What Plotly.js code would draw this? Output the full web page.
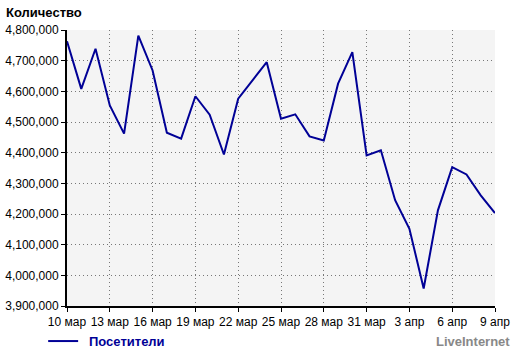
<!DOCTYPE html>
<html>
<head>
<meta charset="utf-8">
<script src="https://cdn.plot.ly/plotly-3.0.1.min.js"></script>
<style>html,body{margin:0;padding:0;background:#fff;}#chart{width:520px;height:353px;}</style>
</head>
<body>
<div id="chart"></div>
<script>
const days = ['10 мар','11 мар','12 мар','13 мар','14 мар','15 мар','16 мар','17 мар','18 мар','19 мар',
  '20 мар','21 мар','22 мар','23 мар','24 мар','25 мар','26 мар','27 мар','28 мар','29 мар',
  '30 мар','31 мар','1 апр','2 апр','3 апр','4 апр','5 апр','6 апр','7 апр','8 апр','9 апр'];
const visitors = [4763000,4608000,4739000,4554000,4462000,4782000,4668000,4465000,4446000,4584000,
  4524000,4394000,4576000,4635000,4695000,4511000,4525000,4453000,4440000,4625000,
  4728000,4391000,4408000,4245000,4152000,3957000,4212000,4353000,4329000,4261000,4203000];
const tickLabels = ['10 мар','13 мар','16 мар','19 мар','22 мар','25 мар','28 мар','31 мар','3 апр','6 апр','9 апр'];
const seriesName = 'Посетители';
const yTitle = 'Количество';
const brand = 'LiveInternet';

const font = 'Arial, "Liberation Sans", sans-serif';
const lineColor = '#000096';
Plotly.newPlot('chart', [{
  x: days, y: visitors, type: 'scatter', mode: 'lines', name: seriesName,
  line: {color: lineColor, width: 2}
}], {
  width: 520, height: 353,
  margin: {l: 67, r: 25, t: 30, b: 47},
  paper_bgcolor: '#ffffff', plot_bgcolor: '#f4f4f4',
  font: {family: font, size: 12, color: '#000'},
  showlegend: false,
  xaxis: {type: 'category', range: [0, 30], tickmode: 'array', tickvals: tickLabels, ticktext: tickLabels,
    showgrid: true, gridcolor: '#777', griddash: '1px,3px', gridwidth: 1,
    showline: true, linecolor: '#000', linewidth: 2, ticks: 'outside', ticklen: 4, tickcolor: '#000',
    tickfont: {family: font, size: 12, color: '#000'}, zeroline: false, fixedrange: true, automargin: false},
  yaxis: {range: [3900000, 4800000], dtick: 100000, tickformat: ',d',
    showgrid: true, gridcolor: '#777', griddash: '1px,3px', gridwidth: 1,
    showline: true, linecolor: '#000', linewidth: 2, ticks: 'outside', ticklen: 4, tickcolor: '#000',
    tickfont: {family: font, size: 12, color: '#000'}, zeroline: false, fixedrange: true, automargin: false},
  shapes: [
    {type: 'line', xref: 'paper', yref: 'paper', x0: -0.044, x1: 0.026, y0: -0.127, y1: -0.127,
     line: {color: lineColor, width: 2}}
  ],
  annotations: [
    {text: yTitle, xref: 'paper', yref: 'paper', x: -0.147, y: 1.065, xanchor: 'left', yanchor: 'middle',
     showarrow: false, font: {family: font, size: 13, color: '#000', weight: 'bold'}},
    {text: seriesName, xref: 'paper', yref: 'paper', x: 0.047, y: -0.127, xanchor: 'left', yanchor: 'middle',
     showarrow: false, font: {family: font, size: 13, color: lineColor, weight: 'bold'}},
    {text: brand, xref: 'paper', yref: 'paper', x: 1.04, y: -0.13, xanchor: 'right', yanchor: 'middle',
     showarrow: false, font: {family: font, size: 13, color: '#888', weight: 'bold'}}
  ]
}, {displayModeBar: false, staticPlot: true});
</script>
</body>
</html>
